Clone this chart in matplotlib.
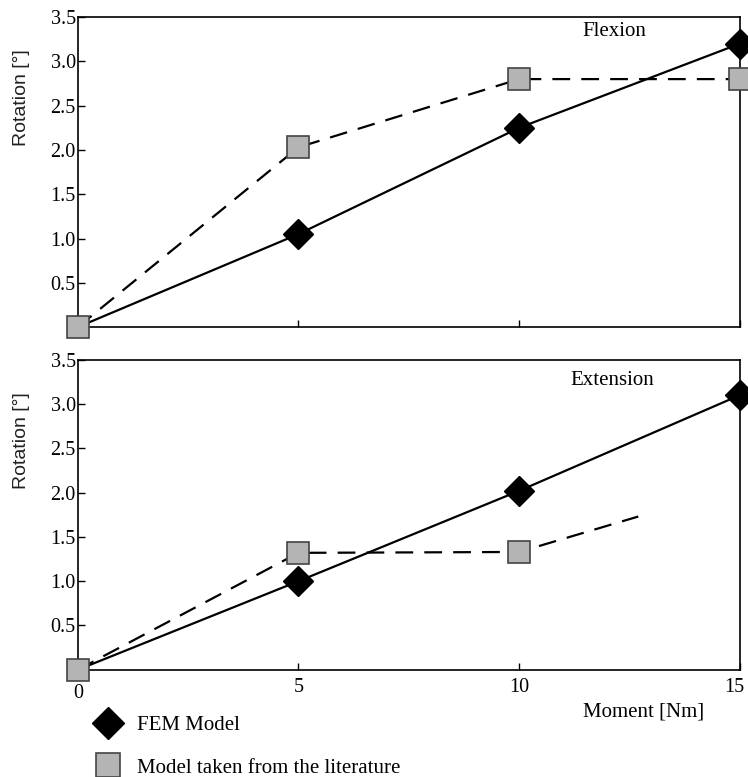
"""Rotation vs moment, flexion and extension (FEM vs literature)."""

import matplotlib
matplotlib.use("Agg")
import matplotlib.pyplot as plt
import matplotlib.transforms as mtransforms
from matplotlib.lines import Line2D

# data
moment = [0, 5, 10, 15]
flex_fem = [0.0, 1.05, 2.25, 3.2]
flex_lit = [0.0, 2.03, 2.8, 2.8]
ext_fem = [0.0, 1.0, 2.02, 3.1]
ext_lit_x = [0, 5, 10, 12.7]
ext_lit = [0.0, 1.32, 1.33, 1.73]

y_ticks = [0.5, 1.0, 1.5, 2.0, 2.5, 3.0, 3.5]
y_ticklabels = ["0.5", "1.0", "1.5", "2.0", "2.5", "3.0", "3.5"]

plt.rcParams["font.family"] = ["Liberation Serif", "DejaVu Serif"]
plt.rcParams["font.size"] = 15

SQ_FACE = "#b4b4b4"
SQ_EDGE = "#444444"


def shift_label(lbl, dx, dy):
    """Move one tick label by dx, dy points."""
    lbl.set_transform(lbl.get_transform()
                      + mtransforms.ScaledTranslation(dx / 72, dy / 72, fig.dpi_scale_trans))


def style_axis(ax, show_xlabels):
    ax.set_xlim(0, 15)
    ax.set_ylim(0, 3.5)
    ax.set_yticks(y_ticks)
    ax.set_yticklabels(y_ticklabels)
    ax.set_xticks([0, 5, 10, 15])
    if show_xlabels:
        ax.set_xticklabels(["0", "5", "10", "15"])
    else:
        ax.set_xticklabels([])
    ax.tick_params(direction="in", length=5, width=1, labelsize=14.5)
    ax.tick_params(axis="y", pad=1.5)
    ax.tick_params(axis="x", pad=6)
    for s in ax.spines.values():
        s.set_linewidth(1.2)
    ax.set_ylabel("Rotation [°]", family=["Liberation Sans", "DejaVu Sans"],
                  fontsize=14, color="#222222")
    ax.yaxis.set_label_coords(-0.072, 0.74)


fig = plt.figure(figsize=(7.48, 7.77), dpi=100)
ax1 = fig.add_axes([0.104, 0.579, 0.885, 0.399])
ax2 = fig.add_axes([0.104, 0.138, 0.885, 0.399])

# Flexion
ax1.plot(moment, flex_fem, color="black", lw=1.6, marker="D", ms=15,
         markevery=[1, 2, 3], mfc="black", mec="black", clip_on=False, zorder=3)
ax1.plot(moment, flex_lit, color="black", lw=1.6, ls=(0, (8, 5)), marker="s",
         ms=16, mfc=SQ_FACE, mec=SQ_EDGE, mew=1.2, clip_on=False, zorder=4)
style_axis(ax1, False)
ax1.text(0.811, 0.952, "Flexion", transform=ax1.transAxes, ha="center", va="center")

# Extension
ax2.plot(moment, ext_fem, color="black", lw=1.6, marker="D", ms=15,
         markevery=[1, 2, 3], mfc="black", mec="black", clip_on=False, zorder=3)
ax2.plot(ext_lit_x, ext_lit, color="black", lw=1.6, ls=(0, (8, 5)), marker="s",
         markevery=[0, 1, 2], ms=16, mfc=SQ_FACE, mec=SQ_EDGE, mew=1.2,
         clip_on=False, zorder=4)
style_axis(ax2, True)
ax2.text(0.808, 0.932, "Extension", transform=ax2.transAxes, ha="center", va="center")
ax2.set_xlabel("Moment [Nm]")
ax2.xaxis.set_label_coords(0.855, -0.105)

# "0" sits a little lower under the marker, "15" is pulled in from the edge
xlbls = ax2.get_xticklabels()
shift_label(xlbls[0], 0, -4)
shift_label(xlbls[-1], -4, 0)

# legend below the plots
handles = [
    Line2D([], [], ls="none", marker="D", ms=16, mfc="black", mec="black"),
    Line2D([], [], ls="none", marker="s", ms=17, mfc=SQ_FACE, mec=SQ_EDGE, mew=1.2),
]
fig.legend(handles, ["FEM Model", "Model taken from the literature"],
           loc="upper left", bbox_to_anchor=(0.128, 0.079), frameon=False,
           handlelength=1.2, handletextpad=0.8, labelspacing=1.1,
           borderaxespad=0, borderpad=0)

fig.savefig("out.png", dpi=100)
